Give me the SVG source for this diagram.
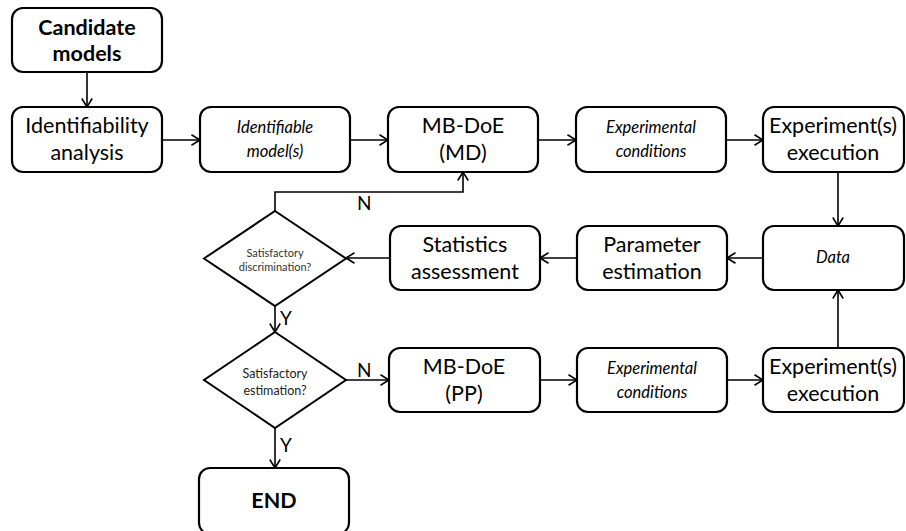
<svg xmlns="http://www.w3.org/2000/svg" width="906" height="531" viewBox="0 0 906 531">
  <defs>
    <marker id="arrow" viewBox="0 0 10 12" refX="9.5" refY="6" markerWidth="10" markerHeight="12" markerUnits="userSpaceOnUse" orient="auto">
      <path d="M1,0.8 L9.5,6 L1,11.2" fill="none" stroke="#000" stroke-width="1.6"/>
    </marker>
    <style>
      .box { fill: #fff; stroke: #000; stroke-width: 2.2; }
      .dia { fill: #fff; stroke: #000; stroke-width: 2; }
      .lbl { font-family: Lato, "Liberation Sans", sans-serif; font-size: 21.5px; fill: #000; text-anchor: middle; }
      .bold { font-weight: bold; }
      .it { font-style: italic; font-size: 16.5px; }
      .small { font-size: 11px; fill: #333; }
      .mid { font-size: 12.5px; fill: #222; }
      .yn { font-family: Lato, "Liberation Sans", sans-serif; font-size: 19px; fill: #000; }
      .conn { fill: none; stroke: #000; stroke-width: 1.6; }
    </style>
  </defs>

  <g id="connectors">
    <line class="conn" x1="87" y1="72" x2="87" y2="107" marker-end="url(#arrow)"/>
    <line class="conn" x1="162" y1="140" x2="200" y2="140" marker-end="url(#arrow)"/>
    <line class="conn" x1="350" y1="140" x2="388" y2="140" marker-end="url(#arrow)"/>
    <line class="conn" x1="538" y1="140" x2="576" y2="140" marker-end="url(#arrow)"/>
    <line class="conn" x1="726" y1="140" x2="763" y2="140" marker-end="url(#arrow)"/>
    <line class="conn" x1="838" y1="172" x2="838" y2="226" marker-end="url(#arrow)"/>
    <line class="conn" x1="763" y1="258" x2="727" y2="258" marker-end="url(#arrow)"/>
    <line class="conn" x1="577" y1="258" x2="540" y2="258" marker-end="url(#arrow)"/>
    <line class="conn" x1="390" y1="258" x2="346" y2="258" marker-end="url(#arrow)"/>
    <path class="conn" d="M275,211 V192 H463 V172" marker-end="url(#arrow)"/>
    <line class="conn" x1="275" y1="306" x2="275" y2="332" marker-end="url(#arrow)"/>
    <line class="conn" x1="346" y1="380" x2="389" y2="380" marker-end="url(#arrow)"/>
    <line class="conn" x1="540" y1="380" x2="577" y2="380" marker-end="url(#arrow)"/>
    <line class="conn" x1="727" y1="380" x2="763" y2="380" marker-end="url(#arrow)"/>
    <line class="conn" x1="838" y1="348" x2="838" y2="290" marker-end="url(#arrow)"/>
    <line class="conn" x1="275" y1="428" x2="275" y2="468" marker-end="url(#arrow)"/>
    <text class="yn" x="357" y="210">N</text>
    <text class="yn" x="280" y="325">Y</text>
    <text class="yn" x="357" y="377">N</text>
    <text class="yn" x="280" y="452">Y</text>
  </g>

  <g id="candidate-models">
    <rect class="box" x="12" y="8" width="150" height="64" rx="11"/>
    <text class="lbl bold" x="87" y="35">Candidate</text>
    <text class="lbl bold" x="87" y="61">models</text>
  </g>

  <g id="identifiability-analysis">
    <rect class="box" x="12" y="107" width="150" height="65" rx="11"/>
    <text class="lbl" x="87" y="133">Identifiability</text>
    <text class="lbl" x="87" y="160">analysis</text>
  </g>

  <g id="identifiable-models">
    <rect class="box" x="200" y="107" width="150" height="65" rx="11"/>
    <text class="lbl it" x="275" y="133">Identifiable</text>
    <text class="lbl it" x="275" y="157">model(s)</text>
  </g>

  <g id="mbdoe-md">
    <rect class="box" x="388" y="107" width="150" height="65" rx="11"/>
    <text class="lbl" x="463" y="133">MB-DoE</text>
    <text class="lbl" x="463" y="160">(MD)</text>
  </g>

  <g id="experimental-conditions-1">
    <rect class="box" x="576" y="107" width="150" height="65" rx="11"/>
    <text class="lbl it" x="651" y="133">Experimental</text>
    <text class="lbl it" x="651" y="157">conditions</text>
  </g>

  <g id="experiment-execution-1">
    <rect class="box" x="763" y="107" width="141" height="65" rx="11"/>
    <text class="lbl" x="833" y="133">Experiment(s)</text>
    <text class="lbl" x="833" y="160">execution</text>
  </g>

  <g id="discrimination-check">
    <polygon class="dia" points="275,211 346,258.5 275,306 204,258.5"/>
    <text class="lbl small" x="275" y="257">Satisfactory</text>
    <text class="lbl small" x="275" y="271">discrimination?</text>
  </g>

  <g id="statistics-assessment">
    <rect class="box" x="390" y="226" width="150" height="64" rx="11"/>
    <text class="lbl" x="465" y="252">Statistics</text>
    <text class="lbl" x="465" y="279">assessment</text>
  </g>

  <g id="parameter-estimation">
    <rect class="box" x="577" y="226" width="150" height="64" rx="11"/>
    <text class="lbl" x="652" y="252">Parameter</text>
    <text class="lbl" x="652" y="279">estimation</text>
  </g>

  <g id="data">
    <rect class="box" x="763" y="226" width="141" height="64" rx="11"/>
    <text class="lbl it" x="833" y="263">Data</text>
  </g>

  <g id="estimation-check">
    <polygon class="dia" points="275,332 346,380 275,428 204,380"/>
    <text class="lbl mid" x="275" y="378">Satisfactory</text>
    <text class="lbl mid" x="275" y="395">estimation?</text>
  </g>

  <g id="mbdoe-pp">
    <rect class="box" x="389" y="348" width="151" height="64" rx="11"/>
    <text class="lbl" x="464" y="374">MB-DoE</text>
    <text class="lbl" x="464" y="401">(PP)</text>
  </g>

  <g id="experimental-conditions-2">
    <rect class="box" x="577" y="348" width="150" height="64" rx="11"/>
    <text class="lbl it" x="652" y="374">Experimental</text>
    <text class="lbl it" x="652" y="398">conditions</text>
  </g>

  <g id="experiment-execution-2">
    <rect class="box" x="763" y="348" width="141" height="64" rx="11"/>
    <text class="lbl" x="833" y="374">Experiment(s)</text>
    <text class="lbl" x="833" y="401">execution</text>
  </g>

  <g id="end">
    <rect class="box" x="199" y="468" width="150" height="66" rx="11"/>
    <text class="lbl bold" x="274" y="508">END</text>
  </g>
</svg>
